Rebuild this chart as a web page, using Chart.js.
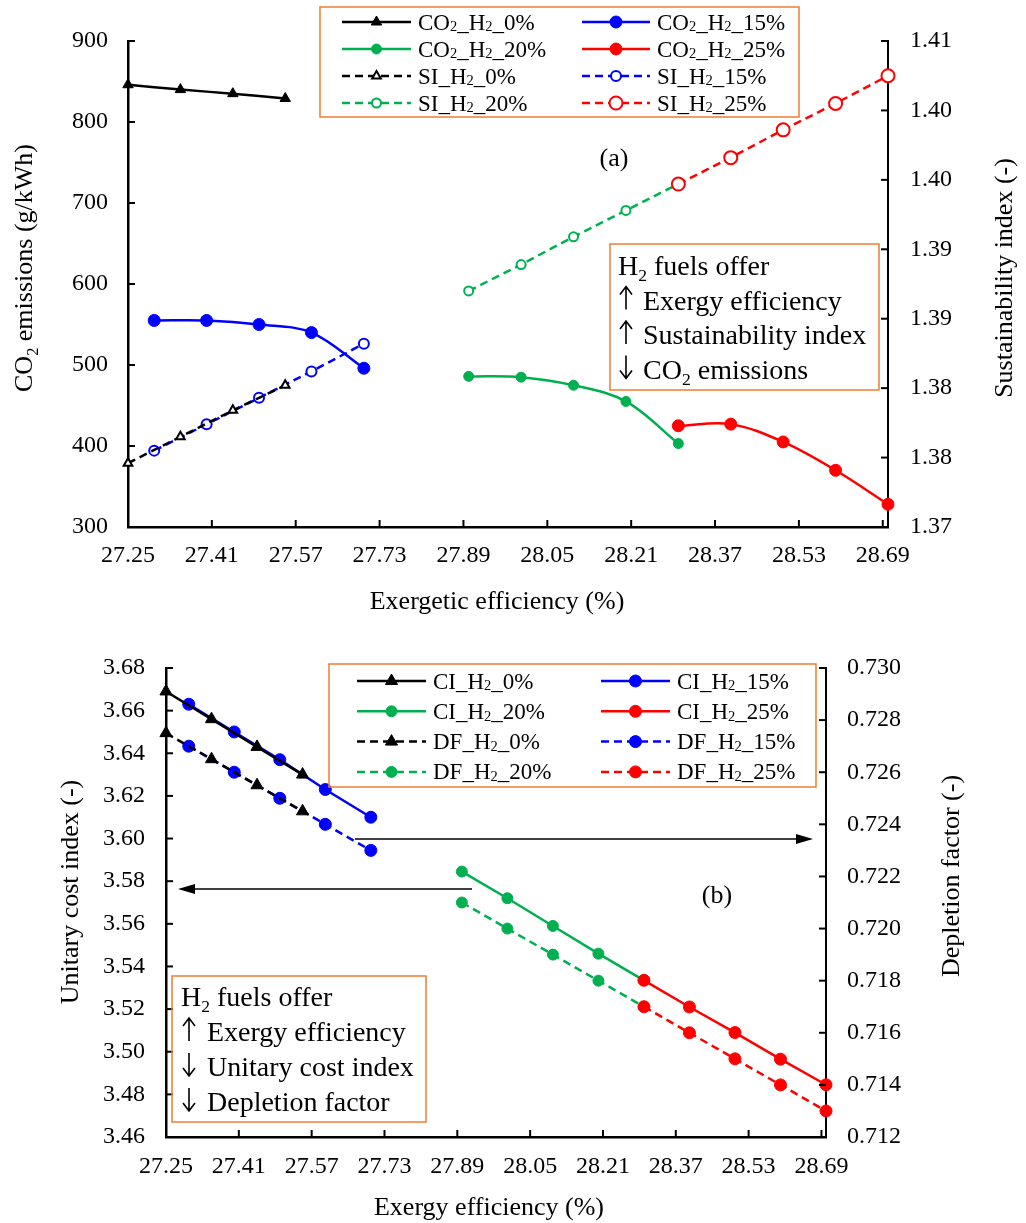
<!DOCTYPE html>
<html>
<head>
<meta charset="utf-8">
<script src="https://cdn.jsdelivr.net/npm/chart.js@4.4.1/dist/chart.umd.min.js"></script>
<style>
body { margin: 0; background: #fff; }
#wrap { position: relative; width: 1026px; height: 1223px; }
canvas { position: absolute; left: 0; }
#plotA { top: 0; }
#plotB { top: 615px; }
</style>
</head>
<body>
<div id="wrap">
<canvas id="plotA" width="1026" height="615"></canvas>
<canvas id="plotB" width="1026" height="608"></canvas>
</div>
<script>
// exergetic efficiency (%) for each H2 share
var eff_h0  = [27.25, 27.35, 27.45, 27.55];
var eff_h15 = [27.30, 27.40, 27.50, 27.60, 27.70];
var eff_h20 = [27.90, 28.00, 28.10, 28.20, 28.30];
var eff_h25 = [28.30, 28.40, 28.50, 28.60, 28.70];

// (a) CO2 emissions (g/kWh)
var co2_h0  = [846, 840, 835, 829];
var co2_h15 = [555, 555, 550, 540, 496];
var co2_h20 = [486, 485, 475, 455, 403];
var co2_h25 = [425, 427, 405, 370, 328];

// (a) sustainability index (-)
var si_h0  = [1.3746, 1.3765, 1.3784, 1.3802];
var si_h15 = [1.3755, 1.3774, 1.3793, 1.3812, 1.3832];
var si_h20 = [1.3870, 1.3889, 1.3909, 1.3928, 1.3947];
var si_h25 = [1.3947, 1.3966, 1.3986, 1.4005, 1.4025];

// (b) unitary cost index (-)
var ci_h0  = [3.669, 3.656, 3.643, 3.630];
var ci_h15 = [3.663, 3.650, 3.637, 3.623, 3.610];
var ci_h20 = [3.5845, 3.572, 3.559, 3.546, 3.5335];
var ci_h25 = [3.5335, 3.521, 3.509, 3.4965, 3.4845];

// (b) depletion factor (-)
var df_h0  = [0.7275, 0.7265, 0.7255, 0.7245];
var df_h15 = [0.7270, 0.7260, 0.7250, 0.7240, 0.7230];
var df_h20 = [0.7210, 0.7200, 0.7190, 0.7180, 0.7170];
var df_h25 = [0.7170, 0.7160, 0.7150, 0.7140, 0.7130];

// axis ticks
var x_ticks = [27.25, 27.41, 27.57, 27.73, 27.89, 28.05, 28.21, 28.37, 28.53, 28.69];
var co2_ticks = [300, 400, 500, 600, 700, 800, 900];
var si_ticks = [1.370, 1.375, 1.380, 1.385, 1.390, 1.395, 1.400, 1.405];
var si_tick_labels = ["1.37", "1.38", "1.38", "1.39", "1.39", "1.40", "1.40", "1.41"];
var ci_ticks = [3.46, 3.48, 3.50, 3.52, 3.54, 3.56, 3.58, 3.60, 3.62, 3.64, 3.66, 3.68];
var df_ticks = [0.712, 0.714, 0.716, 0.718, 0.720, 0.722, 0.724, 0.726, 0.728, 0.730];

var serif = '"Liberation Serif", "Times New Roman", serif';
var black = '#000000', blue = '#0000FF', green = '#00B050', red = '#FF0000', orange = '#ED7D31';

Chart.defaults.font.family = serif;
Chart.defaults.color = '#000';

function pts(xs, ys) {
	return xs.map(function (x, i) { return {x: x, y: ys[i]}; });
}

function series(label, xs, ys, axis, color, dashed, style, r, hollow, tension) {
	return {
		label: label,
		data: pts(xs, ys),
		yAxisID: axis,
		borderColor: color,
		backgroundColor: color,
		borderWidth: 2.5,
		borderDash: dashed ? [8, 5] : [],
		pointStyle: style,
		pointRadius: r,
		pointBorderWidth: hollow ? 2 : 1,
		pointBorderColor: color,
		pointBackgroundColor: hollow ? '#fff' : color,
		tension: tension || 0,
		order: color == red ? -1 : 0,
		clip: false,
		fill: false
	};
}

// text with ~sub~ parts
function rich(ctx, str, x, y, size, align, drop) {
	var parts = str.split('~');
	var sub = size * 0.63;
	var w = 0, i;
	for (i = 0; i < parts.length; i++) {
		ctx.font = (i % 2 ? sub : size) + 'px ' + serif;
		w += ctx.measureText(parts[i]).width;
	}
	var cx = align == 'center' ? x - w / 2 : x;
	ctx.textAlign = 'left';
	ctx.textBaseline = 'alphabetic';
	for (i = 0; i < parts.length; i++) {
		ctx.font = (i % 2 ? sub : size) + 'px ' + serif;
		ctx.fillText(parts[i], cx, y + (i % 2 ? size * drop : 0));
		cx += ctx.measureText(parts[i]).width;
	}
}

function arrow(ctx, x1, y, x2) {
	var dir = x2 > x1 ? 1 : -1;
	ctx.strokeStyle = '#000';
	ctx.fillStyle = '#000';
	ctx.lineWidth = 1.5;
	ctx.setLineDash([]);
	ctx.beginPath();
	ctx.moveTo(x1, y);
	ctx.lineTo(x2 - dir * 12, y);
	ctx.stroke();
	ctx.beginPath();
	ctx.moveTo(x2, y);
	ctx.lineTo(x2 - dir * 17, y - 5);
	ctx.lineTo(x2 - dir * 17, y + 5);
	ctx.closePath();
	ctx.fill();
}

// up / down arrow drawn as a glyph in the note box
function updown(ctx, x, base, up) {
	var top = base - 23, bot = base;
	var tip = up ? top : bot, d = up ? 1 : -1;
	ctx.strokeStyle = '#000';
	ctx.lineWidth = 1.6;
	ctx.setLineDash([]);
	ctx.beginPath();
	ctx.moveTo(x, top);
	ctx.lineTo(x, bot);
	ctx.moveTo(x - 6, tip + d * 8);
	ctx.lineTo(x, tip);
	ctx.lineTo(x + 6, tip + d * 8);
	ctx.stroke();
}

var decor = {
	id: 'decor',
	afterDraw: function (chart, args, o) {
		var ctx = chart.ctx;
		ctx.save();

		// tick marks pointing into the plot
		ctx.strokeStyle = '#000';
		ctx.lineWidth = 2;
		ctx.setLineDash([]);
		Object.keys(chart.scales).forEach(function (id) {
			var s = chart.scales[id];
			s.ticks.forEach(function (t) {
				var p = s.getPixelForValue(t.value);
				ctx.beginPath();
				if (s.isHorizontal()) { ctx.moveTo(p, s.top); ctx.lineTo(p, s.top - 7); }
				else if (s.position == 'left') { ctx.moveTo(s.right, p); ctx.lineTo(s.right + 7, p); }
				else { ctx.moveTo(s.left, p); ctx.lineTo(s.left - 7, p); }
				ctx.stroke();
			});
		});

		// axis titles
		ctx.fillStyle = '#000';
		o.titles.forEach(function (t) {
			ctx.save();
			ctx.translate(t.x, t.y);
			if (t.rot) ctx.rotate(-Math.PI / 2);
			rich(ctx, t.text, 0, 0, 26, 'center', 0.22);
			ctx.restore();
		});

		// legend
		var L = o.legend;
		ctx.strokeStyle = orange;
		ctx.lineWidth = 1.5;
		ctx.strokeRect(L.box[0], L.box[1], L.box[2] - L.box[0], L.box[3] - L.box[1]);
		chart.data.datasets.forEach(function (ds, i) {
			var c = L.cols[i % 2], y = L.top + Math.floor(i / 2) * L.dy;
			ctx.strokeStyle = ds.borderColor;
			ctx.lineWidth = ds.borderWidth;
			ctx.setLineDash(ds.borderDash);
			ctx.beginPath();
			ctx.moveTo(c[0], y);
			ctx.lineTo(c[1], y);
			ctx.stroke();
			ctx.setLineDash([]);
			ctx.fillStyle = ds.pointBackgroundColor;
			ctx.strokeStyle = ds.pointBorderColor;
			ctx.lineWidth = ds.pointBorderWidth;
			Chart.helpers.drawPoint(ctx, {pointStyle: ds.pointStyle, radius: ds.pointRadius, rotation: 0, borderWidth: ds.pointBorderWidth}, (c[0] + c[1]) / 2, y);
			ctx.fillStyle = '#000';
			rich(ctx, ds.label, c[2], y + L.size * 0.33, L.size, 'left', 0.08);
		});

		// note box
		var N = o.note;
		ctx.strokeStyle = orange;
		ctx.lineWidth = 1.5;
		ctx.strokeRect(N.box[0], N.box[1], N.box[2] - N.box[0], N.box[3] - N.box[1]);
		N.lines.forEach(function (s, i) {
			var y = N.top + i * N.dy;
			var first = s.charAt(0);
			ctx.fillStyle = '#000';
			if (first == '^' || first == 'v') {
				updown(ctx, N.ax, y, first == '^');
				rich(ctx, s.slice(1).trim(), N.tx, y, N.size, 'left', 0.22);
			} else {
				rich(ctx, s, N.x, y, N.size, 'left', 0.22);
			}
		});

		// panel tag
		ctx.fillStyle = '#000';
		ctx.font = '26px ' + serif;
		ctx.textAlign = 'center';
		ctx.textBaseline = 'alphabetic';
		ctx.fillText(o.tag.text, o.tag.x, o.tag.y);

		(o.arrows || []).forEach(function (a) { arrow(ctx, a[0], a[1], a[2]); });

		ctx.restore();
	}
};

function axisX(ticks, h, pad) {
	return {
		type: 'linear', position: 'bottom', min: 27.25, max: 28.70,
		grid: {display: false, drawTicks: false},
		border: {display: true, color: '#000', width: 2.5},
		afterBuildTicks: function (s) { s.ticks = ticks.map(function (v) { return {value: v}; }); },
		afterFit: function (s) { s.height = h; },
		ticks: {
			autoSkip: false, maxRotation: 0, padding: pad, color: '#000',
			font: {family: serif, size: 24},
			callback: function (v) { return v.toFixed(2); }
		}
	};
}

function axisY(pos, min, max, ticks, fmt, w, pad) {
	return {
		type: 'linear', position: pos, min: min, max: max,
		grid: {display: false, drawTicks: false},
		border: {display: true, color: '#000', width: pos == 'left' ? 2.5 : 2, dash: pos == 'left' ? [] : [5, 3]},
		afterBuildTicks: function (s) { s.ticks = ticks.map(function (v) { return {value: v}; }); },
		afterFit: function (s) { s.width = w; },
		ticks: {
			autoSkip: false, padding: pad, color: '#000',
			font: {family: serif, size: 24},
			callback: fmt
		}
	};
}

var chartA = new Chart(document.getElementById('plotA').getContext('2d'), {
	type: 'line',
	data: {
		datasets: [
			series('CO~2~_H~2~_0%', eff_h0, co2_h0, 'co2', black, false, 'triangle', 6, false, 0.35),
			series('CO~2~_H~2~_15%', eff_h15, co2_h15, 'co2', blue, false, 'circle', 6, false, 0.35),
			series('CO~2~_H~2~_20%', eff_h20, co2_h20, 'co2', green, false, 'circle', 5, false, 0.35),
			series('CO~2~_H~2~_25%', eff_h25, co2_h25, 'co2', red, false, 'circle', 6, false, 0.35),
			series('SI_H~2~_0%', eff_h0, si_h0, 'si', black, true, 'triangle', 5, true),
			series('SI_H~2~_15%', eff_h15, si_h15, 'si', blue, true, 'circle', 5, true),
			series('SI_H~2~_20%', eff_h20, si_h20, 'si', green, true, 'circle', 4.5, true),
			series('SI_H~2~_25%', eff_h25, si_h25, 'si', red, true, 'circle', 6.5, true)
		]
	},
	options: {
		responsive: false,
		animation: false,
		events: [],
		layout: {padding: {top: 41, left: 0, right: 0, bottom: 0}, autoPadding: false},
		scales: {
			x: axisX(x_ticks, 88, 14),
			co2: axisY('left', 300, 900, co2_ticks, function (v) { return String(v); }, 128, 20),
			si: axisY('right', 1.370, 1.405, si_ticks, function (v, i) { return si_tick_labels[i]; }, 138, 22)
		},
		plugins: {
			legend: {display: false},
			tooltip: {enabled: false},
			decor: {
				titles: [
					{text: 'CO~2~ emissions (g/kWh)', x: 32, y: 268, rot: true},
					{text: 'Sustainability index (-)', x: 1012, y: 278, rot: true},
					{text: 'Exergetic efficiency (%)', x: 497, y: 609}
				],
				legend: {box: [320, 7, 799, 117], top: 22, dy: 27, size: 23, cols: [[342, 411, 418], [582, 650, 657]]},
				note: {
					box: [610, 244, 879, 390], x: 618, ax: 626, tx: 643, top: 275, dy: 34.5, size: 28,
					lines: ['H~2~ fuels offer', '^ Exergy efficiency', '^ Sustainability index', 'v CO~2~ emissions']
				},
				tag: {text: '(a)', x: 614, y: 166}
			}
		}
	},
	plugins: [decor]
});

var chartB = new Chart(document.getElementById('plotB').getContext('2d'), {
	type: 'line',
	data: {
		datasets: [
			series('CI_H~2~_0%', eff_h0, ci_h0, 'ci', black, false, 'triangle', 7, false),
			series('CI_H~2~_15%', eff_h15, ci_h15, 'ci', blue, false, 'circle', 6, false),
			series('CI_H~2~_20%', eff_h20, ci_h20, 'ci', green, false, 'circle', 5.5, false),
			series('CI_H~2~_25%', eff_h25, ci_h25, 'ci', red, false, 'circle', 6, false),
			series('DF_H~2~_0%', eff_h0, df_h0, 'df', black, true, 'triangle', 7, false),
			series('DF_H~2~_15%', eff_h15, df_h15, 'df', blue, true, 'circle', 6, false),
			series('DF_H~2~_20%', eff_h20, df_h20, 'df', green, true, 'circle', 5.5, false),
			series('DF_H~2~_25%', eff_h25, df_h25, 'df', red, true, 'circle', 6, false)
		]
	},
	options: {
		responsive: false,
		animation: false,
		events: [],
		layout: {padding: {top: 53, left: 0, right: 0, bottom: 0}, autoPadding: false},
		scales: {
			x: axisX(x_ticks, 86, 15),
			ci: axisY('left', 3.46, 3.68, ci_ticks, function (v) { return v.toFixed(2); }, 166, 21),
			df: axisY('right', 0.712, 0.730, df_ticks, function (v) { return v.toFixed(3); }, 200, 21)
		},
		plugins: {
			legend: {display: false},
			tooltip: {enabled: false},
			decor: {
				titles: [
					{text: 'Unitary cost index (-)', x: 78, y: 277, rot: true},
					{text: 'Depletion factor (-)', x: 959, y: 261, rot: true},
					{text: 'Exergy efficiency (%)', x: 489, y: 600}
				],
				legend: {box: [329, 49, 816, 172], top: 66, dy: 30.3, size: 23, cols: [[357, 426, 433], [601, 670, 677]]},
				note: {
					box: [172, 361, 426, 507], x: 181, ax: 189, tx: 207, top: 391, dy: 35, size: 28,
					lines: ['H~2~ fuels offer', '^ Exergy efficiency', 'v Unitary cost index', 'v Depletion factor']
				},
				tag: {text: '(b)', x: 717, y: 288},
				arrows: [[355, 224, 813], [472, 274, 178]]
			}
		}
	},
	plugins: [decor]
});
</script>
</body>
</html>
